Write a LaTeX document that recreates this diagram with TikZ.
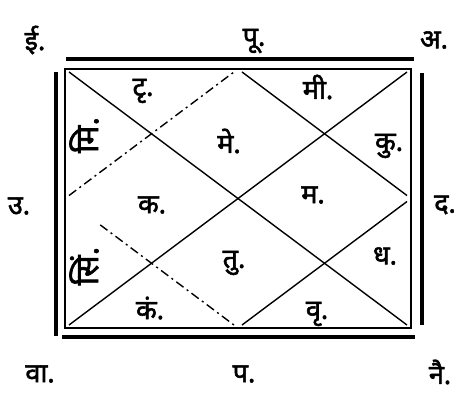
\documentclass[tikz,border=0pt]{standalone}
\usepackage{fontspec}
\newfontfamily\dev[Script=Devanagari, FakeBold=2]{Noto Sans}
\begin{document}
\begin{tikzpicture}[x=1pt,y=-1pt,
  lbl/.style={font=\dev\fontsize{27}{27}\selectfont, inner sep=0pt},
  rlbl/.style={lbl, font=\dev\fontsize{32}{32}\selectfont, rotate=90},
  thinln/.style={line width=1.2pt},
  thickln/.style={line width=3.2pt},
  diag/.style={line width=1.4pt, shorten <=5pt, shorten >=5pt},
  dashdiag/.style={diag, dash pattern=on 9pt off 4pt on 2pt off 4pt}]
\useasboundingbox (0,0) rectangle (460,392);
% frame
\draw[thinln] (65,69) rectangle (411,328);
\draw[thickln] (66,59) -- (414,59);
\draw[thickln] (56,72) -- (56,336);
\draw[thickln] (422,73) -- (422,325);
\draw[thickln] (62,337) -- (415,337);
% chart points
\coordinate (TL) at (65,69);
\coordinate (TR) at (411,69);
\coordinate (BR) at (411,328);
\coordinate (BL) at (65,328);
\coordinate (T) at (238,69);
\coordinate (R) at (411,198.5);
\coordinate (B) at (238,328);
\coordinate (L) at (65,198.5);
\draw[diag] (TL) -- (BR);
\draw[diag] (BL) -- (TR);
\draw[diag] (T) -- (R);
\draw[diag] (R) -- (B);
\draw[dashdiag] (L) -- (T);
\draw[dashdiag, shorten <=44pt] (L) -- (B);
% direction labels
\node[lbl] (ne) at (35,40) {ई.};
\node[lbl] (e) at (254,41) {पू.};
\node[lbl] (se) at (434,40) {अ.};
\node[lbl] (n) at (19,206) {उ.};
\node[lbl] (s) at (445,205) {द.};
\node[lbl] (nw) at (40,374) {वा.};
\node[lbl] (w) at (244,374) {प.};
\node[lbl] (sw) at (440,372) {नै.};
% house labels
\node[lbl] (h2) at (143,91) {टृ.};
\node[rlbl] (h3) at (84,135) {मि.};
\node[lbl] (h1) at (229,141) {मे.};
\node[lbl] (h12) at (318,87) {मी.};
\node[lbl] (h11) at (389,146) {कु.};
\node[lbl] (h4) at (152,205) {क.};
\node[lbl] (h10) at (313,195) {म.};
\node[rlbl] (h5) at (84,266) {सिं.};
\node[lbl] (h7) at (234,263) {तु.};
\node[lbl] (h9) at (385,256) {ध.};
\node[lbl] (h6) at (150,308) {कं.};
\node[lbl] (h8) at (317,314) {वृ.};
\end{tikzpicture}
\end{document}
